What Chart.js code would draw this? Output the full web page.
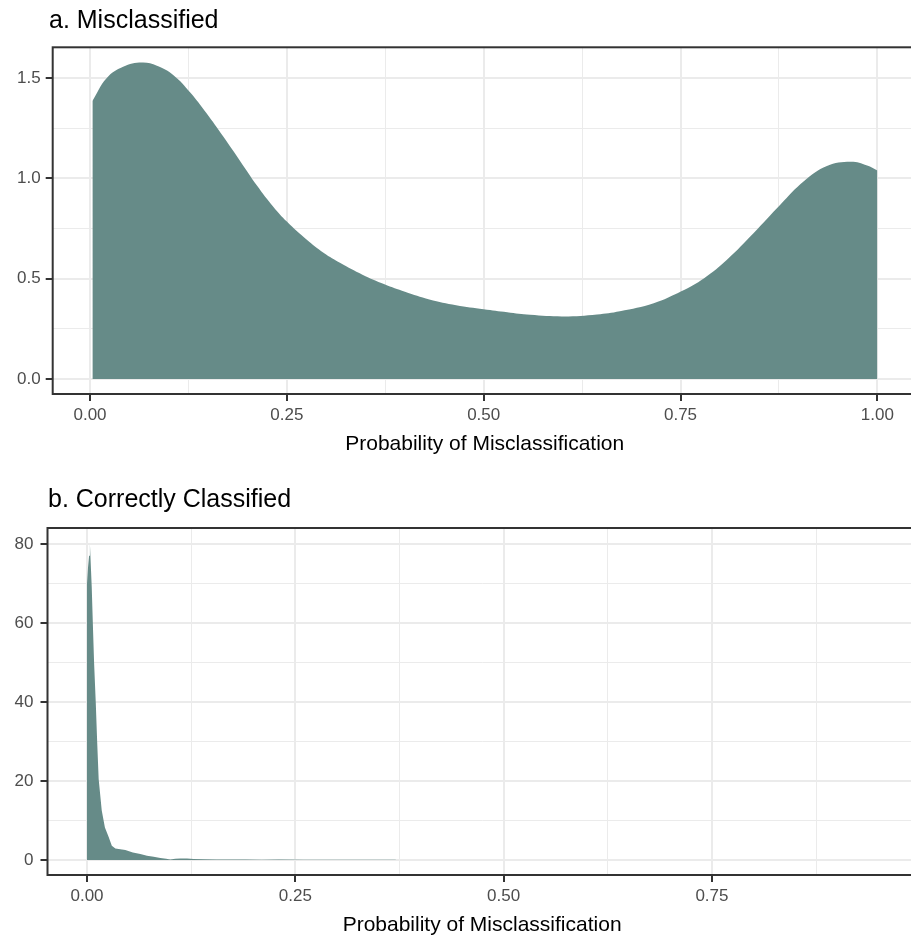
<!DOCTYPE html>
<html>
<head>
<meta charset="utf-8">
<script src="https://cdn.jsdelivr.net/npm/chart.js@4"></script>
<style>
  html, body { margin: 0; padding: 0; background: #ffffff; overflow: hidden; }
  canvas { position: absolute; left: 0; }
  #misChart { top: 0; }
  #corChart { top: 465px; }
</style>
</head>
<body>
<canvas id="misChart" width="922" height="465"></canvas>
<canvas id="corChart" width="922" height="473"></canvas>
<script>
// density of predicted misclassification probability, panel a (misclassified cases)
const misX = [0.003, 0.021, 0.042, 0.066, 0.085, 0.106, 0.127, 0.148, 0.169, 0.191,
  0.212, 0.233, 0.25, 0.275, 0.297, 0.318, 0.346, 0.374, 0.40, 0.431,
  0.465, 0.50, 0.53, 0.559, 0.602, 0.644, 0.673, 0.716, 0.751, 0.78,
  0.809, 0.843, 0.877, 0.907, 0.936, 0.966, 0.987, 1.0];
const misY = [1.386, 1.50, 1.557, 1.578, 1.562, 1.515, 1.43, 1.325, 1.21, 1.085,
  0.965, 0.858, 0.785, 0.695, 0.628, 0.578, 0.52, 0.472, 0.435, 0.397,
  0.368, 0.348, 0.333, 0.32, 0.312, 0.322, 0.338, 0.378, 0.437, 0.503,
  0.595, 0.728, 0.87, 0.987, 1.062, 1.083, 1.065, 1.04];

// panel b (correctly classified cases)
const corX = [0.0, 0.0012, 0.0025, 0.0035, 0.0045, 0.0057, 0.007, 0.0085, 0.0105, 0.0122,
  0.014, 0.0177, 0.0215, 0.026, 0.0298, 0.034, 0.04, 0.046, 0.055, 0.064,
  0.072, 0.08, 0.088, 0.095, 0.1, 0.106, 0.112, 0.12, 0.128, 0.14,
  0.155, 0.17, 0.19, 0.21, 0.23, 0.26, 0.29, 0.32, 0.37, 0.371];
const corY = [70, 74, 77, 80, 75, 69, 60, 50, 40, 30,
  20.5, 12.5, 8.2, 5.8, 3.6, 2.9, 2.7, 2.5, 1.9, 1.5,
  1.1, 0.8, 0.5, 0.3, 0.1, 0.3, 0.4, 0.35, 0.25, 0.2,
  0.15, 0.12, 0.1, 0.08, 0.1, 0.06, 0.05, 0.05, 0.03, 0];

// ticks (empty label = minor grid line)
const misXTicks = [0, 0.125, 0.25, 0.375, 0.5, 0.625, 0.75, 0.875, 1];
const misXTickLabels = ['0.00', '', '0.25', '', '0.50', '', '0.75', '', '1.00'];
const misYTicks = [0, 0.25, 0.5, 0.75, 1, 1.25, 1.5];
const misYTickLabels = ['0.0', '', '0.5', '', '1.0', '', '1.5'];

const corXTicks = [0, 0.125, 0.25, 0.375, 0.5, 0.625, 0.75, 0.875];
const corXTickLabels = ['0.00', '', '0.25', '', '0.50', '', '0.75', ''];
const corYTicks = [0, 10, 20, 30, 40, 50, 60, 70, 80];
const corYTickLabels = ['0', '', '20', '', '40', '', '60', '', '80'];

const FONT = '"Liberation Sans", Arial, Helvetica, sans-serif';
const FILL = '#668b88';

const panelTitle = {
  id: 'panelTitle',
  afterDraw(chart, args, opts) {
    const ctx = chart.ctx;
    ctx.save();
    ctx.font = '25px ' + FONT;
    ctx.fillStyle = '#000000';
    ctx.textBaseline = 'alphabetic';
    ctx.textAlign = 'left';
    ctx.fillText(opts.text, opts.x, opts.y);
    ctx.restore();
  }
};

const panelBorder = {
  id: 'panelBorder',
  afterDatasetsDraw(chart) {
    const { ctx, chartArea: a } = chart;
    ctx.save();
    ctx.strokeStyle = '#333333';
    ctx.lineWidth = 2;
    ctx.strokeRect(a.left, a.top, a.right - a.left, a.bottom - a.top);
    ctx.restore();
  }
};

function axis(ticks, labels, min, max, cfg) {
  const isMajor = (ctx) => labels[ticks.indexOf(ctx.tick && ctx.tick.value)] !== '';
  return {
    type: 'linear',
    min,
    max,
    afterBuildTicks(scale) {
      scale.ticks = ticks.map(v => ({ value: v }));
    },
    afterFit(scale) {
      if (cfg.width) scale.width = cfg.width;
      if (cfg.height) scale.height = cfg.height;
    },
    border: { display: false },
    grid: {
      color: '#ebebeb',
      lineWidth: (ctx) => (isMajor(ctx) ? 2 : 1),
      drawTicks: true,
      tickLength: 7,
      tickWidth: 2,
      tickColor: (ctx) => (isMajor(ctx) ? '#333333' : 'rgba(0,0,0,0)')
    },
    ticks: {
      autoSkip: false,
      maxRotation: 0,
      padding: cfg.padding,
      color: '#4d4d4d',
      font: { family: FONT, size: 17 },
      callback: (value) => {
        const i = ticks.indexOf(value);
        return i >= 0 ? labels[i] : '';
      }
    },
    title: cfg.title ? {
      display: true,
      text: cfg.title,
      color: '#000000',
      padding: { top: 0, bottom: 0 },
      font: { family: FONT, size: 21 }
    } : { display: false }
  };
}

function densityChart(id, xs, ys, opts) {
  return new Chart(document.getElementById(id), {
    type: 'scatter',
    data: {
      datasets: [{
        data: xs.map((x, i) => ({ x, y: ys[i] })),
        showLine: true,
        fill: 'origin',
        backgroundColor: FILL,
        borderColor: FILL,
        borderWidth: 0,
        pointRadius: 0,
        tension: opts.tension
      }]
    },
    options: {
      responsive: false,
      animation: false,
      events: [],
      layout: { padding: opts.padding },
      scales: {
        x: axis(opts.xTicks, opts.xLabels, opts.xMin, opts.xMax,
          { height: 62.6, padding: 4, title: 'Probability of Misclassification' }),
        y: axis(opts.yTicks, opts.yLabels, opts.yMin, opts.yMax,
          { width: opts.yWidth, padding: opts.yPad })
      },
      plugins: {
        legend: { display: false },
        tooltip: { enabled: false },
        panelTitle: opts.title
      }
    },
    plugins: [panelTitle, panelBorder]
  });
}

densityChart('misChart', misX, misY, {
  tension: 0.4,
  padding: { top: 47.3, right: 5.3, bottom: 8.4, left: 0 },
  xTicks: misXTicks, xLabels: misXTickLabels, xMin: -0.0474, xMax: 1.05,
  yTicks: misYTicks, yLabels: misYTickLabels, yMin: -0.0748, yMax: 1.654,
  yWidth: 52.7, yPad: 5,
  title: { text: 'a. Misclassified', x: 49, y: 28.3 }
});

densityChart('corChart', corX, corY, {
  tension: 0,
  padding: { top: 63, right: 5.3, bottom: 0.4, left: 0 },
  xTicks: corXTicks, xLabels: corXTickLabels, xMin: -0.0474, xMax: 0.9957,
  yTicks: corYTicks, yLabels: corYTickLabels, yMin: -3.8, yMax: 84.05,
  yWidth: 47.5, yPad: 7,
  title: { text: 'b. Correctly Classified', x: 48, y: 42.3 }
});
</script>
</body>
</html>
